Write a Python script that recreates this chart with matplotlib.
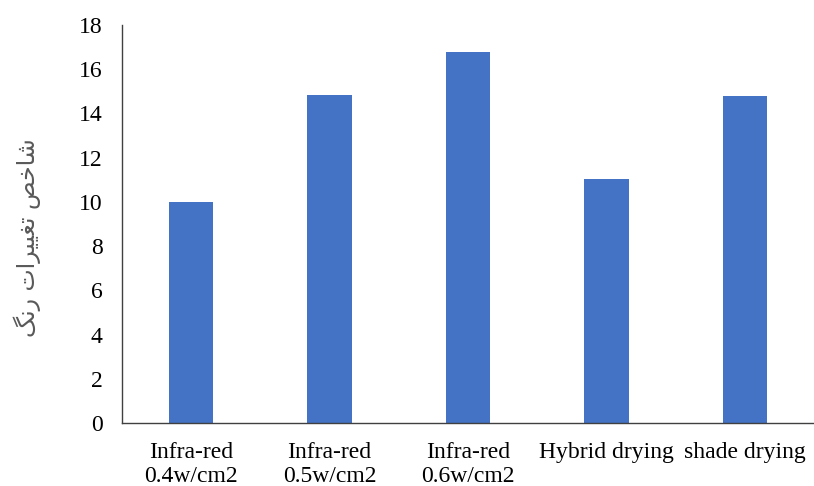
import matplotlib.pyplot as plt

# --- Andmed ---
categories = ["Infra-red\n0.4w/cm2", "Infra-red\n0.5w/cm2", "Infra-red\n0.6w/cm2",
              "Hybrid drying", "shade drying"]
values = [10.0, 14.85, 16.8, 11.05, 14.78]
y_ticks = [0, 2, 4, 6, 8, 10, 12, 14, 16, 18]

# Persian label "شاخص تغییرات رنگ" in presentation forms, visual order
y_label = ("\uFB93\uFEE7\uFEAD \uFE95\uFE8D\uFEAE\uFBFF\uFBFF\uFED0\uFE97 "
           "\uFEBA\uFEA7\uFE8E\uFEB7")

plt.rcParams["font.family"] = ["Liberation Serif", "DejaVu Sans"]

fig = plt.figure(figsize=(8.14, 4.86), dpi=100)
ax = fig.add_axes([122 / 814, 63 / 486, 692 / 814, 398 / 486])

x = range(len(categories))
ax.bar(x, values, width=0.32, color="#4472C4")

ax.set_xlim(-0.5, len(categories) - 0.5)
ax.set_ylim(0, 18)
ax.set_yticks(y_ticks)
ax.set_xticks(list(x))
ax.set_xticklabels(categories, fontsize=17, linespacing=1.15)
ax.tick_params(axis="y", labelsize=17, length=0, pad=14)
ax.tick_params(axis="x", length=0, pad=14)

for side in ("top", "right"):
    ax.spines[side].set_visible(False)
for side in ("left", "bottom"):
    ax.spines[side].set_color("#404040")
    ax.spines[side].set_linewidth(1.0)

fig.text(27 / 814, 0.5 + (486 / 2 - 238) / 486, y_label, rotation=90,
         ha="center", va="center", fontsize=17, color="#595959",
         family=["DejaVu Sans"])

plt.savefig("out.png", dpi=100)
